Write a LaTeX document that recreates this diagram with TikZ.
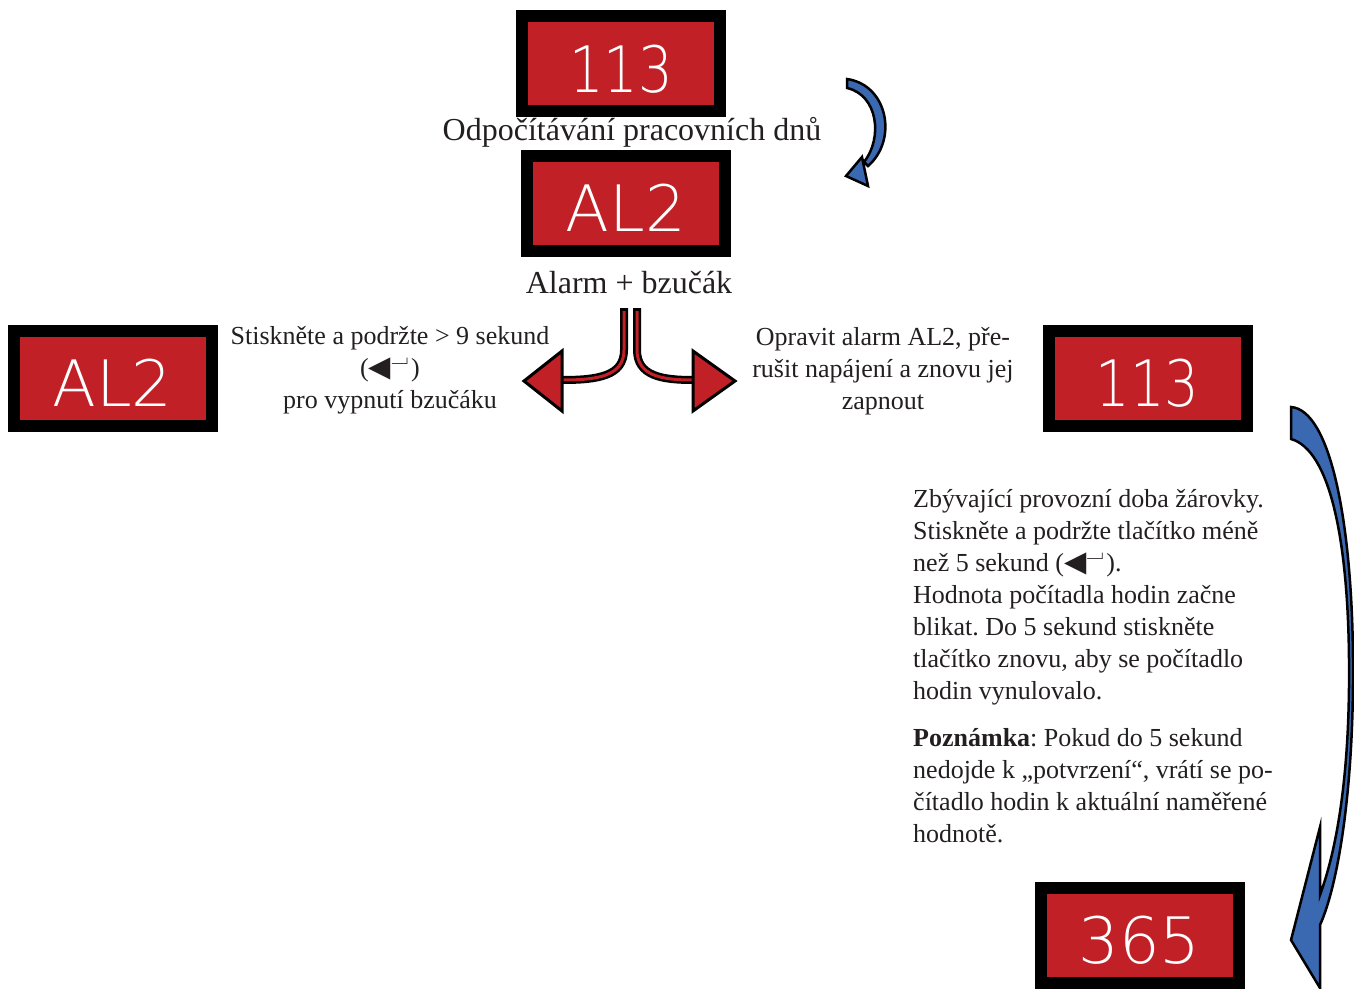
\documentclass[tikz,border=0pt]{standalone}
\usepackage{graphicx}
\usepackage{fontspec}
\setmainfont{Liberation Serif}
\newfontfamily\dispfont{DejaVu Sans ExtraLight}
\newfontfamily\symfont{DejaVu Sans}
\definecolor{dispred}{RGB}{193,32,38}
\definecolor{arrblue}{RGB}{58,104,177}
\definecolor{txt}{RGB}{35,31,32}
\newcommand{\entersym}{{\symfont\fontsize{29}{29}\selectfont ◀}\kern1pt\raisebox{9pt}{\symfont\fontsize{10}{10}\selectfont ──┘}\kern1pt}
\frenchspacing
\begin{document}
\begin{tikzpicture}[x=1pt,y=-1pt,
  display/.style={draw=black, fill=dispred, line width=12pt, minimum width=198pt, minimum height=95pt, inner sep=0pt},
  digits/.style={text=white, font=\dispfont\fontsize{64}{64}\selectfont, inner sep=0pt},
  biglabel/.style={text=txt, font=\fontsize{32}{38}\selectfont, inner sep=0pt, anchor=base},
  body/.style={text=txt, font=\fontsize{26}{32}\selectfont, inner sep=0pt},
  redshaftout/.style={draw=black, line width=8pt},
  redshaftin/.style={draw=dispred, line width=3pt},
  redhead/.style={fill=dispred, draw=black, line width=3pt, line join=miter},
  bluearrow/.style={fill=arrblue, draw=black, line width=2.5pt, line join=miter},
]
\useasboundingbox (0,0) rectangle (1354,988);

% labels under top displays (drawn first, partly covered)
\node[biglabel] (lab1) at (632,140) {Odpočítávání pracovních dnů};

% displays
\node[display] (b1) at (621,63.5) {};
\node[digits] (d1) at (621,69) {\scalebox{0.85}[1]{113}};
\node[display] (b2) at (626,203.5) {};
\node[digits] (d2) at (626,208) {AL2};
\node[biglabel] (lab2) at (629,293) {Alarm + bzučák};

\node[display] (b3) at (112.5,378) {};
\node[digits] (d3) at (112.5,383) {AL2};
\node[display] (b4) at (1147.5,378) {};
\node[digits] (d4) at (1147.5,383) {\scalebox{0.85}[1]{113}};
\node[display] (b5) at (1139.5,935.5) {};
\node[digits] (d5) at (1139.5,940) {365};

% side texts
\node[body, align=center, anchor=north] (tl) at (390,321.6)
  {\strut Stiskněte a podržte > 9 sekund\\(\entersym)\\pro vypnutí bzučáku};
\node[body, align=center, anchor=north] (tr) at (883,322.6)
  {\strut Opravit alarm AL2, pře-\\rušit napájení a znovu jej\\zapnout};
\node[body, align=left, anchor=north west] (tb) at (913,484.6)
  {\strut Zbývající provozní doba žárovky.\\
   Stiskněte a podržte tlačítko méně\\
   než 5 sekund (\entersym).\\
   Hodnota počítadla hodin začne\\
   blikat. Do 5 sekund stiskněte\\
   tlačítko znovu, aby se počítadlo\\
   hodin vynulovalo.\\[15pt]
   \textbf{Poznámka}: Pokud do 5 sekund\\
   nedojde k „potvrzení“, vrátí se po-\\
   čítadlo hodin k aktuální naměřené\\
   hodnotě.};

% fork arrow
\coordinate (fl0) at (624,308);
\coordinate (fl1) at (624,350);
\coordinate (fl2) at (562,380);
\coordinate (fr0) at (637,308);
\coordinate (fr1) at (637,350);
\coordinate (fr2) at (693,380);
\draw[redshaftout] (fl0) -- (fl1) .. controls (624,376) and (598,380) .. (fl2);
\draw[redshaftin] (624,311) -- (fl1) .. controls (624,376) and (598,380) .. (fl2);
\draw[redshaftout] (fr0) -- (fr1) .. controls (637,376) and (662,380) .. (fr2);
\draw[redshaftin] (637,311) -- (fr1) .. controls (637,376) and (662,380) .. (fr2);
\filldraw[redhead] (562,351) -- (524,381) -- (562,411) -- cycle;
\filldraw[redhead] (693,351) -- (735,381) -- (693,411) -- cycle;

% small curved arrow (top right)
\filldraw[bluearrow] (847,79) .. controls (888,85) and (898,140) .. (868,166)
  -- (864,162) .. controls (883,138) and (878,95) .. (847,88) -- cycle;
\filldraw[bluearrow] (846,176) -- (862,157) -- (868,186) -- cycle;

% big curved arrow (right)
\filldraw[bluearrow] (1291,439) -- (1291,407)
  .. controls (1330,410) and (1352,520) .. (1353,660)
  .. controls (1354,790) and (1338,885) .. (1320,925)
  -- (1320,988) -- (1291,940) -- (1320,827) -- (1320,895)
  .. controls (1340,840) and (1350,760) .. (1349,660)
  .. controls (1348,540) and (1330,450) .. (1291,439) -- cycle;
\end{tikzpicture}
\end{document}
